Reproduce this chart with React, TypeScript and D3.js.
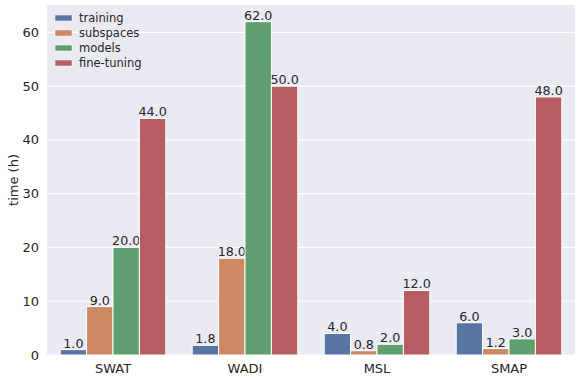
import { useEffect, useRef } from 'react';
import * as d3 from 'd3';

const categories = ['SWAT', 'WADI', 'MSL', 'SMAP'];
const seriesNames = ['training', 'subspaces', 'models', 'fine-tuning'];
const training = [1.0, 1.8, 4.0, 6.0];
const subspaces = [9.0, 18.0, 0.8, 1.2];
const models = [20.0, 62.0, 2.0, 3.0];
const fineTuning = [44.0, 50.0, 12.0, 48.0];
const yTicks = [0, 10, 20, 30, 40, 50, 60];
const colors = ['#5975a4', '#cc8963', '#5f9e6e', '#b55d60'];

const W = 581;
const H = 382;
const margin = { top: 5, right: 6, bottom: 27, left: 47 };

export default function App() {
  const svgRef = useRef<SVGSVGElement>(null);

  useEffect(() => {
    const svg = d3.select(svgRef.current);
    svg.selectAll('*').remove();
    const series = [training, subspaces, models, fineTuning];
    const iw = W - margin.left - margin.right;
    const ih = H - margin.top - margin.bottom;
    const font = 'DejaVu Sans, sans-serif';

    const x = d3.scaleLinear().domain([-0.5, categories.length - 0.5]).range([0, iw]);
    const y = d3.scaleLinear().domain([0, 62 * 1.05]).range([ih, 0]);

    const g = svg.append('g').attr('transform', `translate(${margin.left},${margin.top})`);
    g.append('rect').attr('width', iw).attr('height', ih).attr('fill', '#eaeaf2');

    g.selectAll('.grid')
      .data(yTicks)
      .join('line')
      .attr('x1', 0)
      .attr('x2', iw)
      .attr('y1', d => y(d))
      .attr('y2', d => y(d))
      .attr('stroke', '#fff')
      .attr('stroke-width', 1.2);

    const bw = 0.2;
    series.forEach((vals, si) => {
      const off = -0.4 + si * bw;
      g.selectAll(`.bar${si}`)
        .data(vals)
        .join('rect')
        .attr('x', (d, i) => x(i + off))
        .attr('width', x(bw) - x(0))
        .attr('y', d => y(d))
        .attr('height', d => y(0) - y(d))
        .attr('fill', colors[si])
        .attr('stroke', '#fff')
        .attr('stroke-width', 1);
      g.selectAll(`.lab${si}`)
        .data(vals)
        .join('text')
        .attr('x', (d, i) => x(i + off + bw / 2))
        .attr('y', d => y(d) - 2)
        .attr('text-anchor', 'middle')
        .attr('font-family', font)
        .attr('font-size', 12.7)
        .attr('fill', '#262626')
        .text(d => d.toFixed(1));
    });

    g.selectAll('.yt')
      .data(yTicks)
      .join('text')
      .attr('x', -8)
      .attr('y', d => y(d))
      .attr('dy', '0.35em')
      .attr('text-anchor', 'end')
      .attr('font-family', font)
      .attr('font-size', 13)
      .attr('fill', '#262626')
      .text(d => d);

    g.selectAll('.xt')
      .data(categories)
      .join('text')
      .attr('x', (d, i) => x(i))
      .attr('y', ih + 18)
      .attr('text-anchor', 'middle')
      .attr('font-family', font)
      .attr('font-size', 13)
      .attr('fill', '#262626')
      .text(d => d);

    svg.append('text')
      .attr('transform', `translate(18,${margin.top + ih / 2}) rotate(-90)`)
      .attr('text-anchor', 'middle')
      .attr('font-family', font)
      .attr('font-size', 13)
      .attr('fill', '#262626')
      .text('time (h)');

    const leg = g.append('g').attr('transform', 'translate(8,10)');
    seriesNames.forEach((name, i) => {
      leg.append('rect')
        .attr('x', 0)
        .attr('y', i * 15)
        .attr('width', 17)
        .attr('height', 6)
        .attr('fill', colors[i])
        .attr('stroke', '#fff')
        .attr('stroke-width', 0.5);
      leg.append('text')
        .attr('x', 24)
        .attr('y', i * 15 + 3)
        .attr('dy', '0.35em')
        .attr('font-family', font)
        .attr('font-size', 11.5)
        .attr('fill', '#262626')
        .text(name);
    });
  }, []);

  return <svg ref={svgRef} width={W} height={H} style={{ display: 'block', position: 'absolute', left: 0, top: 0 }} />;
}
